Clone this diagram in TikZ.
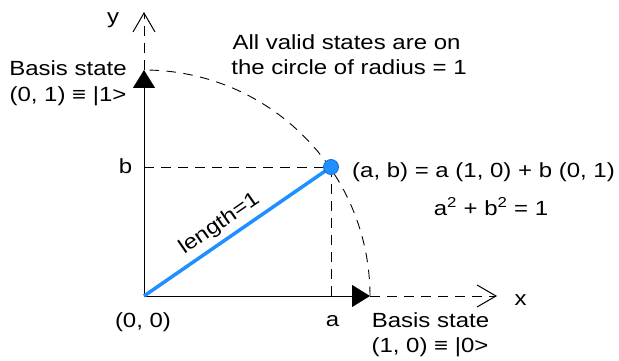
\documentclass[tikz,border=0pt]{standalone}
\usepackage{fontspec}
\setmainfont{Liberation Sans}[FakeStretch=1.17]
\usetikzlibrary{arrows.meta}
\definecolor{ptblue}{RGB}{30,144,255}
\definecolor{ptedge}{RGB}{25,105,200}
\begin{document}
\begin{tikzpicture}[x=1pt,y=-1pt,
  lbl/.style={font=\fontsize{20.5}{25}\selectfont, inner sep=0pt, anchor=base},
  axisline/.style={line width=1pt, -{Triangle[length=18pt,width=22pt]}},
  axisext/.style={line width=1pt, dash pattern=on 9.5pt off 7.5pt, -{Straight Barb[length=19pt,width=22pt]}},
  guide/.style={line width=0.9pt, dash pattern=on 9.5pt off 7.5pt},
  vecline/.style={ptblue, line width=3.5pt},
  dotnode/.style={circle, fill=ptblue, draw=ptedge, line width=0.8pt, minimum size=15pt, inner sep=0pt},
]
\useasboundingbox (0,0) rectangle (619,361);
% key points
\coordinate (O) at (144,296);
\coordinate (X1) at (370,296);
\coordinate (X2) at (497,296);
\coordinate (Y1) at (144,70);
\coordinate (Y2) at (144,12);
\coordinate (A) at (331,296);
\coordinate (B) at (144,167);
\coordinate (Pc) at (331,167);
% circle arc and guides
\draw[guide] (X1) arc[start angle=0, end angle=-90, radius=226];
\draw[guide] (B) -- (Pc) -- (A);
% axes
\draw[axisline] (O) -- (X1);
\draw[axisext] (X1) -- (X2);
\draw[axisline] (O) -- (Y1);
\draw[axisext] (Y1) -- (Y2);
% vector
\draw[vecline] (O) -- node[pos=0.453, sloped, above, inner sep=5pt, font=\fontsize{20.5}{25}\selectfont, black] (len) {length=1} (Pc);
\node[dotnode] (P) at (Pc) {};
% labels
\node[lbl] (ylab) at (113,24) {y};
\node[lbl] (xlab) at (520.5,305) {x};
\node[lbl] (bs1a) at (68,76) {Basis state};
\node[lbl] (bs1b) at (68,102) {(0, 1) ≡ |1>};
\node[lbl] (blab) at (125.5,173) {b};
\node[lbl] (olab) at (143,327) {(0, 0)};
\node[lbl] (alab) at (332.5,326) {a};
\node[lbl] (bs0a) at (430.5,327) {Basis state};
\node[lbl] (bs0b) at (430,352) {(1, 0) ≡ |0>};
\node[lbl] (note1) at (346.5,50) {All valid states are on};
\node[lbl] (note2) at (349,75) {the circle of radius = 1};
\node[lbl] (eq1) at (483.5,177) {(a, b) = a (1, 0) + b (0, 1)};
\node[lbl] (eq2) at (491,215) {a\textsuperscript{2} + b\textsuperscript{2} = 1};
\end{tikzpicture}
\end{document}
